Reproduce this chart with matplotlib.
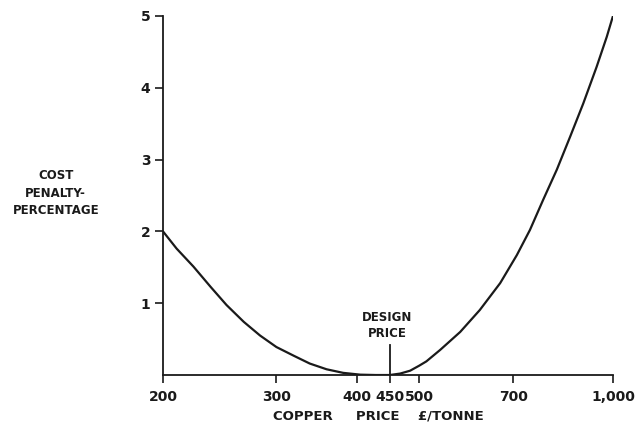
import matplotlib.pyplot as plt
from matplotlib.ticker import NullLocator

# values (x axis is logarithmic)
copper_price = [200, 210, 223, 237, 251, 267, 283, 300, 319, 338, 359, 381, 405, 428,
                450, 467, 484, 500, 513, 539, 579, 621, 668, 709, 743, 779, 818, 858,
                899, 943, 978, 1000]
cost_penalty = [2.0, 1.76, 1.51, 1.23, 0.975, 0.74, 0.55, 0.39, 0.27, 0.16, 0.08, 0.03,
                0.005, 0.0, 0.0, 0.02, 0.06, 0.13, 0.19, 0.35, 0.60, 0.905, 1.28, 1.67,
                2.02, 2.44, 2.86, 3.32, 3.78, 4.29, 4.71, 5.0]

x_ticks = [200, 300, 400, 450, 500, 700, 1000]
x_tick_labels = ['200', '300', '400', '450', '500', '700', '1,000']
y_ticks = [1, 2, 3, 4, 5]

design_price = 450
design_mark_height = 0.42

ink = '#1a1a1a'
plt.rcParams['font.family'] = ['DejaVu Sans']
plt.rcParams['font.weight'] = 'bold'

fig = plt.figure(figsize=(6.41, 4.32), dpi=100)
ax = fig.add_axes([0.2543, 0.1319, 0.702, 0.8311])

ax.plot(copper_price, cost_penalty, color=ink, lw=1.6, solid_capstyle='round',
        solid_joinstyle='round')
ax.plot([design_price, design_price], [0, design_mark_height], color=ink, lw=1.3)
ax.text(design_price * 0.99, design_mark_height + 0.07, 'DESIGN\nPRICE', ha='center',
        va='bottom', fontsize=8.5, color=ink, linespacing=1.3)

ax.set_xscale('log')
ax.set_xlim(200, 1000)
ax.set_ylim(0, 5)
ax.xaxis.set_minor_locator(NullLocator())
ax.set_xticks(x_ticks)
ax.set_xticklabels(x_tick_labels)
ax.set_yticks(y_ticks)
ax.set_yticklabels([str(v) for v in y_ticks])

for s in ['top', 'right']:
    ax.spines[s].set_visible(False)
for s in ['left', 'bottom']:
    ax.spines[s].set_color(ink)
    ax.spines[s].set_linewidth(1.3)

ax.tick_params(axis='both', direction='out', length=6, width=1.2, colors=ink,
               labelsize=10, pad=3)
ax.tick_params(axis='x', pad=5)

fig.text(0.59, 0.022, 'COPPER     PRICE    £/TONNE', ha='center', va='bottom',
         fontsize=9.5, color=ink)
fig.text(0.087, 0.553, 'COST\nPENALTY-\nPERCENTAGE', ha='center', va='center',
         fontsize=8.5, color=ink, linespacing=1.45)

fig.savefig('out.png', dpi=100, facecolor='white')
